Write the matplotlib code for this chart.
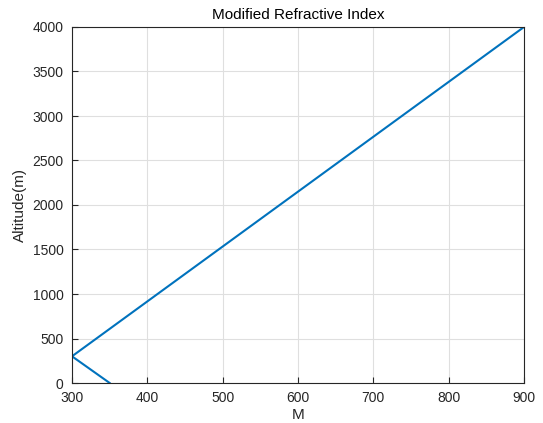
import matplotlib
matplotlib.use("Agg")
import matplotlib.pyplot as plt

# M profile vs altitude
m_vals = [350, 300, 900]
alt_vals = [0, 300, 4000]
x_ticks = [300, 400, 500, 600, 700, 800, 900]
y_ticks = [0, 500, 1000, 1500, 2000, 2500, 3000, 3500, 4000]

plt.rcParams['font.family'] = ['Liberation Sans', 'DejaVu Sans']

fig = plt.figure(figsize=(5.43, 4.23), dpi=100)
ax = fig.add_axes([72/543, 1 - 383/423, (524-72)/543, (383-27)/423])

ax.plot(m_vals, alt_vals, color='#0072BD', linewidth=1.5)
ax.set_xlim(300, 900)
ax.set_ylim(0, 4000)
ax.set_xticks(x_ticks)
ax.set_yticks(y_ticks)
ax.grid(True, color='#dfdfdf', linewidth=0.8)
ax.set_axisbelow(True)
ax.tick_params(direction='in', labelsize=10, colors='#262626', length=4)
ax.tick_params(axis='x', pad=6)
ax.tick_params(axis='y', pad=6)
for s in ax.spines.values():
    s.set_color('#262626')
    s.set_linewidth(0.8)

ax.set_title('Modified Refractive Index', fontsize=11, color='black', pad=6)
ax.set_xlabel('M', fontsize=11, color='#262626', labelpad=2)
ax.set_ylabel('Altitude(m)', fontsize=11, color='#262626', labelpad=4)

fig.savefig('out.png', dpi=100)
